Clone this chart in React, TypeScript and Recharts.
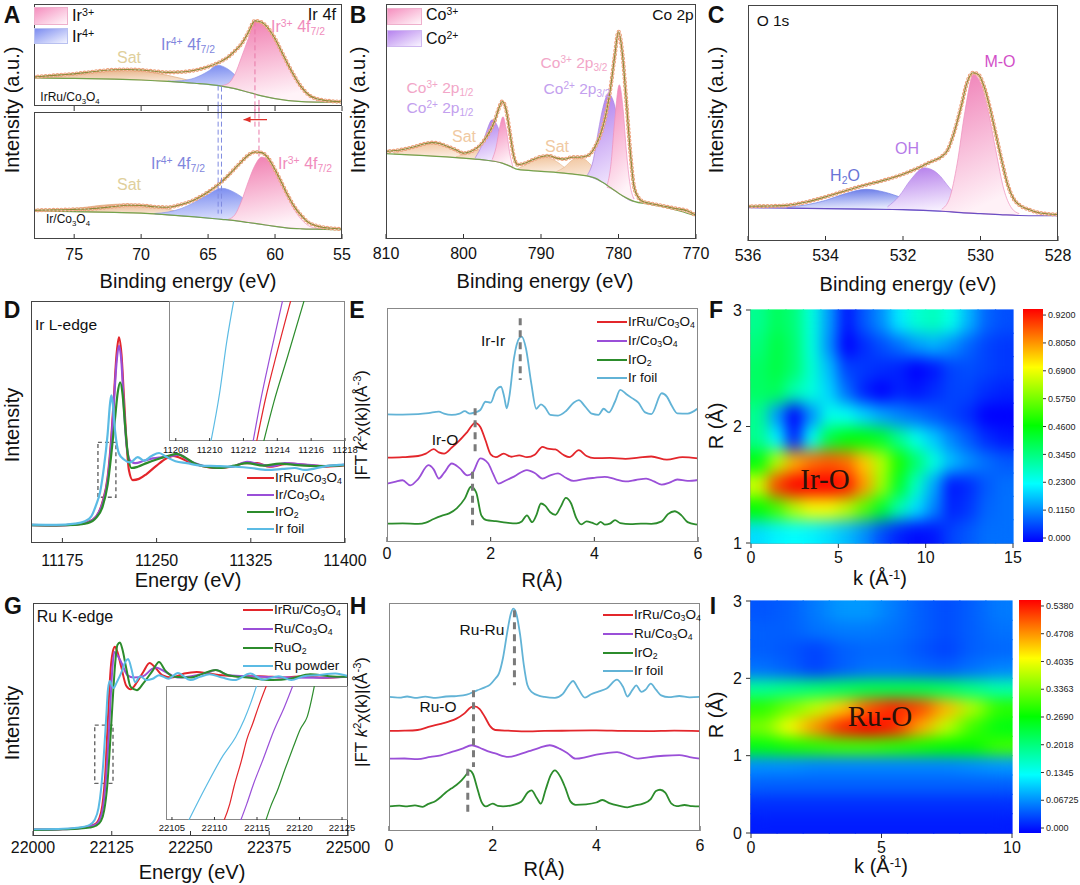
import React from 'react';
import { ComposedChart, Line, Area, Scatter, XAxis, YAxis, ReferenceLine, ReferenceArea } from 'recharts';

type P2 = [number, number];
type P3 = [number, number, number];

const FONT = '"Liberation Sans", Arial, Helvetica, sans-serif';
const SERIF = '"Liberation Serif", "Times New Roman", serif';

// ---------- A: Ir 4f (eV, intensity as % of frame) ----------
const A_TICKS = [55, 60, 65, 70, 75];
const irRuBg: P2[] = [[78, 27.5], [75, 27], [72, 26.3], [70, 25.5], [68, 24.2], [66, 22.3], [64, 19.5], [63, 17], [62, 13.5], [61, 10], [60, 7.2], [59, 5.3], [58, 4.3], [56, 3.7], [55, 3.5]];
const irRuFit: P2[] = [[78, 28.5], [77, 29.5], [76, 30.5], [75, 31.5], [74, 33], [73, 34.5], [72, 35.5], [71, 35.8], [70, 35.3], [69, 34], [68, 33], [67, 33.3], [66, 35], [65, 38.5], [64, 44], [63.5, 48], [63, 54], [62.5, 61], [62, 72], [61.5, 83.5], [61, 82], [60.5, 76], [60, 66], [59.5, 53], [59, 40], [58.5, 28], [58, 18], [57.5, 11], [57, 7.5], [56, 5], [55, 4.2]];
const irRuSat: P3[] = [[77.5, 27.4, 28.2], [76, 27.2, 29.5], [75, 27, 31], [74, 26.8, 32.8], [73, 26.6, 34.3], [72, 26.3, 35.2], [71, 26, 35.5], [70, 25.5, 34.6], [69, 24.9, 32.5], [68, 24.2, 30], [67, 23.3, 27], [66, 22.3, 23.5], [65.5, 21.6, 22]];
const irRuIr4: P3[] = [[68, 24.2, 24.4], [67, 23.3, 24.8], [66, 22.3, 27.5], [65, 21, 34], [64.3, 19.9, 40], [63.5, 18.2, 36], [62.8, 16.3, 28], [62, 13.5, 19], [61, 10, 12], [60, 7.2, 7.6]];
const irRuIr3: P3[] = [[64, 19.5, 20], [63.5, 18.2, 22], [63, 17, 31], [62.5, 15.3, 48], [62, 13.5, 66], [61.5, 11.8, 83], [61, 10, 81], [60.5, 8.6, 75], [60, 7.2, 65.5], [59.5, 6.2, 53], [59, 5.3, 40], [58.5, 4.8, 28], [58, 4.3, 18], [57.5, 4, 11], [57, 3.9, 7], [56, 3.7, 4.2]];

const irBg: P2[] = [[78, 22.2], [76, 21.8], [74, 21.3], [72, 20.9], [70, 20.4], [68, 19], [66, 17.4], [64, 15.5], [63, 14.5], [62, 13], [61, 11.5], [60, 10], [59, 8.6], [58, 8], [57, 7.7], [55, 7.3]];
const irFit: P2[] = [[78, 22.5], [77, 22.8], [76, 23], [75, 23.3], [74, 23.6], [73, 24.5], [72, 25.6], [71, 26.6], [70, 26.4], [69, 25.4], [68, 25], [67, 27.2], [66, 31], [65, 37], [64, 45], [63.5, 50], [63, 55.5], [62.5, 61], [62, 66], [61.5, 68.5], [61, 68], [60.5, 63.5], [60, 54.5], [59.5, 44], [59, 33.5], [58.5, 24.5], [58, 18], [57.5, 13], [57, 10.7], [56, 8.6], [55, 7.8]];
const irSat: P3[] = [[77, 22, 22.3], [76, 21.8, 23], [75, 21.6, 24], [74, 21.3, 25.2], [73, 21.1, 26.5], [72, 20.9, 27.3], [71, 20.6, 27.6], [70, 20.4, 27.2], [69, 19.7, 25.8], [68, 19, 23.5], [67, 18.2, 20.5], [66.5, 17.8, 18.5]];
const irIr4: P3[] = [[69, 19.7, 20.1], [68, 19, 21.2], [67, 18.2, 24], [66, 17.4, 29], [65, 16.4, 35], [64, 15.5, 40], [63, 14.5, 36.5], [62, 13, 29], [61, 11.5, 20], [60, 10, 13], [59, 8.6, 9.5], [58.5, 8.3, 8.6]];
const irIr3: P3[] = [[63.5, 15, 15.5], [63, 14.5, 19], [62.5, 13.8, 30], [62, 13, 45], [61.5, 12.2, 58], [61, 11.5, 64.5], [60.5, 10.7, 62], [60, 10, 54], [59.5, 9.3, 43], [59, 8.6, 32], [58.5, 8.3, 22], [58, 8, 15], [57.5, 7.8, 10.5], [57, 7.7, 8.6], [56.5, 7.6, 7.9]];

// ---------- B: Co 2p ----------
const B_TICKS = [770, 780, 790, 800, 810];
const coBg: P2[] = [[810, 36.3], [805, 35.5], [800, 34.4], [797, 33.5], [795, 32.3], [794, 31], [793, 29.6], [790, 28.8], [787, 28], [785, 27.3], [783, 25.9], [782, 24], [781, 21.8], [780, 19.5], [779, 17.5], [778, 16], [776, 14.8], [774, 13.5], [772, 11.8], [770, 9.8]];
const coFit: P2[] = [[810, 37.3], [808, 38], [807, 38.7], [806, 39.6], [805, 40.5], [804, 41], [803, 40.5], [802, 39.3], [801, 38], [800, 36.5], [799, 37.3], [798, 39.4], [797, 43.6], [796, 50], [795.5, 55], [795, 58.5], [794.5, 55], [794, 45], [793.5, 35], [793, 31.6], [792, 32.3], [791, 33.8], [790, 35], [789, 35.4], [788, 34.4], [787, 34], [786, 34.8], [785, 34.8], [784, 35.4], [783, 39.4], [782, 47.9], [781.5, 55], [781, 64.9], [780.5, 77.6], [780, 88.2], [779.5, 79], [779, 59.2], [778.5, 38], [778, 22.4], [777.5, 18], [777, 16.2], [776, 15.2], [775, 14.6], [773, 13.2], [771, 11.8], [770, 10]];
const coSat1: P3[] = [[809, 36.1, 36.6], [807, 35.8, 38.2], [805, 35.5, 40.5], [804, 35.3, 41], [803, 35.1, 40.3], [801, 34.7, 37.2], [799.5, 34.2, 35]];
const coSat2: P3[] = [[801, 34.7, 35], [799.5, 34.2, 36.5], [798.5, 33.9, 38.5], [797.5, 33.7, 37], [796.5, 33.3, 35], [795.5, 32.8, 33.2]];
const coSat3: P3[] = [[793, 29.6, 29.9], [792, 29.3, 31.5], [791, 29.1, 33.5], [789.5, 28.8, 34.8], [788, 28.4, 33], [787, 28, 30.5], [786, 27.7, 28.5]];
const coSat4: P3[] = [[788, 28.4, 28.7], [787, 28, 30.5], [786, 27.7, 33.5], [785, 27.3, 34.8], [784, 26.8, 33], [783, 25.9, 29], [782.3, 24.5, 25]];
const co2p12: P3[] = [[798.5, 33.9, 34.5], [797.5, 33.7, 41], [797, 33.5, 46], [796.3, 33.2, 50.7], [795.5, 32.8, 47], [795, 32.3, 40], [794.5, 31.8, 33.5], [794, 31, 31.4]];
const co3p12: P3[] = [[796.3, 33.2, 33.8], [795.8, 33, 39], [795.3, 32.5, 48], [794.9, 32.2, 52], [794.5, 31.8, 47], [794, 31, 36], [793.6, 30, 30.4]];
const co2p32: P3[] = [[784, 26.8, 27.3], [783.3, 26, 33], [782.6, 25, 46], [782, 24, 56], [781.3, 22.5, 61.8], [780.6, 20.8, 58], [780, 19.5, 48], [779.3, 18, 33], [778.6, 16.5, 21], [778, 16, 17.2]];
const co3p32: P3[] = [[781.5, 22, 22.5], [781, 21.5, 31], [780.5, 20.5, 50], [779.9, 19.3, 65.6], [779.4, 18.2, 55], [779, 17.5, 38], [778.5, 16.6, 23], [778, 16, 17]];

// ---------- C: O 1s ----------
const C_TICKS = [528, 530, 532, 534, 536];
const oBg: P2[] = [[536, 14.1], [535, 13.9], [534, 13.7], [533, 13.5], [532, 13.3], [531, 12.6], [530.5, 12], [530, 11.6], [529.5, 11.2], [529, 10.8], [528.5, 10.7], [528, 10.7]];
const oFit: P2[] = [[536, 14.7], [535.5, 14.8], [535, 15.1], [534.5, 16.5], [534, 18.7], [533.5, 21.2], [533, 23.6], [532.5, 25.7], [532, 28.3], [531.5, 31.8], [531.25, 33.8], [531, 35.8], [530.85, 38.5], [530.7, 45], [530.5, 57], [530.35, 67], [530.2, 71.3], [530.05, 70.5], [529.9, 65], [529.75, 56], [529.6, 45], [529.45, 34], [529.3, 24], [529.15, 18], [529, 15.3], [528.75, 13.3], [528.5, 12], [528, 11.2]];
const oH2O: P3[] = [[535, 13.9, 14.3], [534.5, 13.8, 15.3], [534, 13.7, 17.2], [533.5, 13.6, 20], [532.95, 13.5, 21.9], [532.5, 13.4, 20.8], [532, 13.3, 18.2], [531.5, 13, 15.6], [531, 12.6, 13.3]];
const oOH: P3[] = [[532.4, 13.4, 14.5], [532.1, 13.3, 19], [531.8, 13.2, 26], [531.45, 13.1, 31], [531.1, 12.8, 28.5], [530.8, 12.5, 22.5], [530.5, 12, 17], [530.2, 11.8, 13.8], [529.9, 11.6, 12.3]];
const oMO: P3[] = [[531, 12.6, 13.5], [530.8, 12.5, 18], [530.6, 12.2, 33], [530.4, 12, 55], [530.18, 11.8, 70.7], [530, 11.6, 67], [529.8, 11.4, 55], [529.6, 11.3, 38], [529.4, 11.1, 22], [529.2, 11, 14], [529, 10.8, 11.6]];

// ---------- D: Ir L-edge XANES ----------
const D_TICKS = [11175, 11250, 11325, 11400];
const dIrRu: P2[] = [[11150, 7.5], [11170, 7.3], [11185, 7.6], [11195, 8.6], [11202, 11], [11207, 17], [11211, 27], [11214, 44], [11216, 60], [11218, 77], [11220, 85], [11222, 78], [11224, 60], [11226, 42], [11228, 30], [11231, 26], [11236, 26.5], [11242, 28.5], [11250, 32], [11258, 35], [11263, 36], [11268, 35.3], [11276, 33.5], [11286, 31.8], [11296, 31], [11310, 31.5], [11320, 33], [11330, 33], [11340, 31.5], [11355, 32.8], [11370, 32.2], [11385, 31.6], [11400, 32.2]];
const dIr: P2[] = [[11150, 7.4], [11170, 7.3], [11185, 7.6], [11195, 8.5], [11202, 11], [11207, 16.5], [11211, 26], [11214, 42], [11216, 58], [11218, 74], [11220, 81.5], [11222, 75], [11224, 56], [11226, 41], [11229, 34], [11233, 33], [11240, 34], [11247, 35], [11255, 35.5], [11262, 36], [11268, 36.5], [11276, 34], [11286, 32], [11296, 31.2], [11310, 31.5], [11322, 33.5], [11332, 32.5], [11342, 31.8], [11352, 33], [11368, 32.4], [11385, 31.8], [11400, 32.4]];
const dIrO2: P2[] = [[11150, 7.4], [11170, 7.3], [11185, 7.5], [11195, 8.2], [11202, 10.5], [11207, 15], [11211, 24], [11214, 37], [11217, 52], [11219, 62], [11221, 66.4], [11223, 61], [11225, 48], [11227, 37], [11230, 31], [11235, 31.5], [11242, 33], [11250, 34.5], [11258, 35.8], [11266, 36.8], [11272, 35.5], [11280, 33], [11290, 31.5], [11300, 31], [11312, 32], [11322, 33], [11335, 32], [11348, 32.8], [11362, 32.2], [11380, 31.8], [11400, 32.2]];
const dFoil: P2[] = [[11150, 7.6], [11170, 7.5], [11185, 8], [11193, 9], [11198, 11], [11202, 16], [11205, 21], [11208, 31], [11211, 45], [11213, 58], [11214, 61], [11215, 58], [11217, 46], [11220, 37], [11224, 34.5], [11229, 33.3], [11235, 35.5], [11240, 34], [11246, 36], [11252, 37.2], [11258, 35.5], [11265, 33.8], [11274, 33], [11285, 32], [11298, 31.8], [11312, 31.5], [11325, 31], [11338, 30.2], [11350, 30.6], [11360, 31], [11368, 30.2], [11385, 31.8], [11400, 32.4]];
const D_IN_TICKS = [11208, 11210, 11212, 11214, 11216, 11218];
const dInIrRu: P2[] = [[11212.7, -5], [11213.3, 30], [11214, 64], [11214.9, 105]];
const dInIr: P2[] = [[11212.5, -5], [11213, 28], [11213.6, 62], [11214.4, 105]];
const dInIrO2: P2[] = [[11213.1, -5], [11213.8, 28], [11214.6, 60], [11215.7, 105]];
const dInFoil: P2[] = [[11210, -5], [11210.6, 35], [11211, 70], [11211.5, 105]];

// ---------- E: Ir FT-EXAFS ----------
const R_TICKS = [0, 2, 4, 6];
const eFoil: P2[] = [[0, 52.7], [0.3, 52.6], [0.6, 52.8], [0.8, 53.2], [1.0, 53.8], [1.1, 53], [1.25, 52.5], [1.4, 53], [1.5, 54], [1.6, 53], [1.7, 53.5], [1.8, 54.5], [1.9, 57.9], [2.0, 57.5], [2.1, 62.5], [2.2, 64.1], [2.26, 60], [2.31, 55.2], [2.36, 60], [2.45, 75.9], [2.55, 84.1], [2.6, 84.8], [2.68, 80], [2.78, 66], [2.88, 55], [2.97, 56.8], [3.05, 55.5], [3.15, 52.5], [3.3, 52.2], [3.45, 54], [3.6, 57.5], [3.7, 58.6], [3.82, 56], [3.95, 53], [4.08, 52.5], [4.18, 55], [4.28, 53.5], [4.4, 58], [4.5, 62.8], [4.62, 61], [4.72, 59.5], [4.85, 57.5], [4.98, 53.5], [5.1, 52.8], [5.3, 61.4], [5.4, 60], [5.5, 56], [5.6, 53.1], [5.8, 53], [6.0, 55.2]];
const eIrRu: P2[] = [[0, 34.8], [0.3, 35], [0.6, 35.5], [0.75, 36.5], [0.9, 38.3], [1.0, 37], [1.1, 36.5], [1.25, 39], [1.4, 42], [1.55, 45.5], [1.7, 49.2], [1.8, 47.5], [1.9, 42], [2.0, 36.2], [2.1, 35], [2.25, 36.5], [2.4, 35.2], [2.55, 35.8], [2.7, 35], [2.85, 36], [3.0, 39.3], [3.1, 38.5], [3.25, 38.2], [3.4, 36], [3.52, 35], [3.7, 37.9], [3.85, 35.5], [4.0, 34.6], [4.3, 34.7], [4.6, 34.3], [4.85, 34.8], [5.1, 35.3], [5.4, 34], [5.7, 35], [6, 34.5]];
const eIr: P2[] = [[0, 24.1], [0.15, 24.8], [0.3, 25.5], [0.45, 23.4], [0.6, 26], [0.8, 31.7], [0.9, 30], [1.0, 26.2], [1.1, 28.5], [1.25, 32.4], [1.4, 30.5], [1.55, 27.5], [1.65, 28.5], [1.8, 34.5], [1.95, 32.5], [2.05, 28], [2.15, 24.1], [2.3, 25.5], [2.45, 27], [2.7, 29.7], [2.85, 28.5], [3.0, 26.2], [3.15, 27.5], [3.3, 28.3], [3.45, 26.5], [3.6, 25.2], [3.8, 26], [4.0, 26.5], [4.2, 26.9], [4.4, 26], [4.6, 25], [4.8, 25.6], [5.0, 26.2], [5.15, 25], [5.3, 23.7], [5.45, 24.5], [5.6, 25.8], [5.8, 25.2], [6, 25.6]];
const eIrO2: P2[] = [[0, 7.6], [0.3, 7.7], [0.6, 7.5], [0.75, 8], [0.9, 9.5], [1.05, 10.8], [1.2, 11.8], [1.35, 14], [1.5, 17.9], [1.62, 22.8], [1.72, 20.5], [1.82, 11], [1.92, 9], [2.1, 8.6], [2.3, 8], [2.5, 7.7], [2.6, 8.5], [2.7, 11], [2.8, 8.2], [2.88, 11], [2.97, 15.9], [3.05, 15], [3.15, 12.3], [3.25, 11.2], [3.35, 14.5], [3.45, 18.2], [3.55, 16], [3.65, 10], [3.75, 7.3], [3.85, 8.5], [3.95, 8], [4.05, 7.2], [4.12, 8.3], [4.2, 7.2], [4.3, 7.6], [4.4, 9], [4.5, 7.8], [4.7, 7.4], [4.9, 7.6], [5.1, 7.5], [5.3, 8.5], [5.42, 11.5], [5.55, 12.7], [5.68, 11], [5.8, 8.2], [5.95, 7.3], [6, 7.2]];

// ---------- F / I: wavelet transform maps ----------
const fK = [0.5, 1.5, 2.5, 3.5, 4.5, 5.5, 6.5, 7.5, 8.5, 9.5, 10.5, 11.5, 12.5, 13.5, 14.5];
const fR = [1.1, 1.3, 1.5, 1.7, 1.9, 2.1, 2.3, 2.5, 2.7, 2.9];
const fGrid: number[][] = [
  [0.2, 0.22, 0.23, 0.22, 0.2, 0.17, 0.13, 0.07, 0.03, 0.01, 0.02, 0.06, 0.08, 0.1, 0.1],
  [0.46, 0.52, 0.62, 0.68, 0.68, 0.63, 0.54, 0.42, 0.3, 0.2, 0.12, 0.03, 0.05, 0.09, 0.1],
  [0.65, 0.86, 0.93, 0.93, 0.93, 0.9, 0.78, 0.6, 0.42, 0.28, 0.15, 0.02, 0.04, 0.08, 0.1],
  [0.45, 0.62, 0.76, 0.82, 0.84, 0.82, 0.74, 0.62, 0.48, 0.36, 0.26, 0.17, 0.13, 0.1, 0.08],
  [0.33, 0.22, 0.03, 0.24, 0.4, 0.45, 0.45, 0.42, 0.33, 0.25, 0.18, 0.12, 0.08, 0.04, 0.02],
  [0.33, 0.14, 0.0, 0.13, 0.25, 0.24, 0.19, 0.15, 0.12, 0.1, 0.08, 0.06, 0.04, 0.0, 0.0],
  [0.37, 0.38, 0.3, 0.26, 0.19, 0.1, 0.03, 0.0, 0.03, 0.02, 0.04, 0.06, 0.06, 0.04, 0.03],
  [0.37, 0.4, 0.36, 0.27, 0.17, 0.06, 0.05, 0.04, 0.03, 0.0, 0.02, 0.06, 0.07, 0.06, 0.05],
  [0.35, 0.4, 0.36, 0.26, 0.13, 0.0, 0.04, 0.07, 0.1, 0.14, 0.16, 0.13, 0.09, 0.06, 0.05],
  [0.33, 0.38, 0.35, 0.26, 0.14, 0.02, 0.08, 0.13, 0.21, 0.27, 0.29, 0.25, 0.16, 0.09, 0.07],
];
const F_BAR_TICKS = [0, 0.115, 0.23, 0.345, 0.46, 0.575, 0.69, 0.805, 0.92];
const F_BAR_LABELS = ['0.000', '0.1150', '0.2300', '0.3450', '0.4600', '0.5750', '0.6900', '0.8050', '0.9200'];

const iK = [0.5, 1.5, 2.5, 3.5, 4.5, 5.5, 6.5, 7.5, 8.5, 9.5];
const iR = [0.125, 0.375, 0.625, 0.875, 1.125, 1.375, 1.625, 1.875, 2.125, 2.375, 2.625, 2.875];
const iGrid: number[][] = [
  [0.015, 0.015, 0.015, 0.015, 0.015, 0.015, 0.015, 0.015, 0.015, 0.015],
  [0.025, 0.025, 0.025, 0.025, 0.025, 0.025, 0.025, 0.025, 0.025, 0.025],
  [0.05, 0.05, 0.05, 0.05, 0.05, 0.05, 0.05, 0.05, 0.05, 0.05],
  [0.075, 0.075, 0.07, 0.07, 0.07, 0.07, 0.07, 0.07, 0.075, 0.08],
  [0.26, 0.28, 0.29, 0.3, 0.3, 0.29, 0.28, 0.27, 0.27, 0.3],
  [0.33, 0.4, 0.46, 0.52, 0.54, 0.52, 0.45, 0.37, 0.3, 0.26],
  [0.29, 0.33, 0.37, 0.43, 0.49, 0.52, 0.5, 0.44, 0.36, 0.29],
  [0.19, 0.2, 0.21, 0.22, 0.23, 0.23, 0.23, 0.22, 0.2, 0.18],
  [0.06, 0.05, 0.035, 0.05, 0.06, 0.06, 0.055, 0.05, 0.06, 0.07],
  [0.05, 0.045, 0.035, 0.05, 0.055, 0.055, 0.045, 0.035, 0.05, 0.055],
  [0.05, 0.05, 0.06, 0.065, 0.065, 0.06, 0.05, 0.04, 0.05, 0.06],
  [0.045, 0.05, 0.065, 0.08, 0.08, 0.065, 0.05, 0.04, 0.05, 0.065],
];
const I_BAR_TICKS = [0, 0.06725, 0.1345, 0.2018, 0.269, 0.3363, 0.4035, 0.4708, 0.538];
const I_BAR_LABELS = ['0.000', '0.06725', '0.1345', '0.2018', '0.2690', '0.3363', '0.4035', '0.4708', '0.5380'];

// ---------- G: Ru K-edge XANES ----------
const G_TICKS = [22000, 22125, 22250, 22375, 22500];
const gIrRu: P2[] = [[22000, 2.9], [22040, 2.9], [22070, 3.3], [22090, 4.3], [22100, 5.4], [22105, 7.5], [22110, 13], [22115, 28], [22118, 45], [22121, 62], [22124, 74], [22127, 79.5], [22130, 81.2], [22134, 79], [22140, 72.6], [22148, 64.5], [22155, 63], [22165, 66], [22175, 70.4], [22185, 74.3], [22195, 72], [22205, 69], [22220, 68], [22240, 69.7], [22260, 70.4], [22280, 69.7], [22300, 69], [22330, 68.6], [22360, 68.6], [22400, 68], [22430, 68.6], [22460, 67.9], [22500, 68.6]];
const gRu: P2[] = [[22000, 2.6], [22040, 2.8], [22070, 3.2], [22090, 4.1], [22100, 5], [22106, 7], [22111, 12], [22116, 25], [22120, 42], [22123, 58], [22126, 72], [22129, 79], [22133, 78], [22140, 74.6], [22150, 69], [22160, 68], [22175, 68.6], [22188, 71.5], [22195, 72.3], [22210, 70.5], [22230, 68], [22260, 69], [22280, 70.4], [22290, 71.2], [22310, 69], [22350, 68.5], [22400, 68], [22450, 67.9], [22500, 68.3]];
const gRuO2: P2[] = [[22000, 2.6], [22040, 2.8], [22070, 3.1], [22090, 3.6], [22100, 4.4], [22108, 6.5], [22113, 11], [22118, 22], [22122, 38], [22126, 56], [22130, 72.6], [22134, 82], [22138, 83], [22142, 80], [22148, 72], [22155, 64], [22165, 62.6], [22175, 65.5], [22190, 71], [22200, 74.7], [22210, 71], [22225, 68.3], [22250, 68], [22270, 69.7], [22290, 71.2], [22310, 69], [22340, 68], [22380, 66.9], [22410, 67.6], [22440, 69.4], [22470, 68.6], [22500, 68.3]];
const gFoil: P2[] = [[22000, 2.9], [22040, 3], [22070, 3.5], [22090, 4.8], [22098, 7], [22104, 12], [22108, 20], [22112, 33], [22116, 50], [22119, 63], [22122, 66.5], [22125, 64.7], [22128, 63.5], [22133, 66], [22140, 70], [22147, 75], [22151, 76], [22156, 72], [22162, 66], [22170, 68.6], [22180, 66.9], [22190, 67.5], [22200, 69], [22215, 67.5], [22230, 70], [22250, 66.9], [22265, 68.3], [22280, 69.4], [22300, 68], [22320, 66.9], [22345, 69.7], [22365, 67.1], [22390, 68.6], [22410, 66.9], [22430, 68.6], [22450, 69], [22480, 69.7], [22500, 68.6]];
const G_IN_TICKS = [22105, 22110, 22115, 22120, 22125];
const gInIrRu: P2[] = [[22110.8, -5], [22111.8, 12], [22112.3, 25], [22113.2, 45], [22113.8, 60], [22114.5, 72], [22115.2, 85], [22116.4, 105]];
const gInRu: P2[] = [[22112.8, -5], [22113.8, 12], [22114.6, 27], [22115.7, 45], [22117, 67], [22118.2, 84], [22119.5, 105]];
const gInRuO2: P2[] = [[22115.8, -5], [22116.6, 10], [22117.4, 22], [22118.3, 38], [22119.3, 55], [22120.1, 68], [22120.9, 77], [22121.9, 105]];
const gInFoil: P2[] = [[22106.6, -5], [22109, 25], [22111, 48], [22112.5, 62], [22113.5, 75], [22114.3, 88], [22115.2, 105]];

// ---------- H: Ru FT-EXAFS ----------
const hFoil: P2[] = [[0, 58.8], [0.2, 58.5], [0.35, 59], [0.5, 58.4], [0.7, 58.9], [0.9, 58.4], [1.1, 59], [1.3, 59.2], [1.5, 59.8], [1.7, 61.7], [1.85, 63], [1.95, 64.2], [2.05, 66.8], [2.12, 69], [2.2, 76], [2.28, 87], [2.35, 95.3], [2.4, 97.5], [2.46, 95], [2.53, 86], [2.6, 73], [2.67, 64], [2.75, 61], [2.9, 59.3], [3.0, 58.8], [3.2, 58.4], [3.35, 60], [3.47, 64], [3.55, 65.8], [3.65, 62.5], [3.78, 58.5], [3.9, 60], [4.05, 61.2], [4.2, 62.5], [4.4, 66.4], [4.52, 63], [4.6, 59], [4.7, 62], [4.77, 63.9], [4.87, 61], [4.95, 62], [5.05, 64.6], [5.15, 62], [5.25, 59.5], [5.4, 58.7], [5.6, 59.2], [5.8, 58.6], [6, 58.8]];
const hIrRu: P2[] = [[0, 43.9], [0.3, 44], [0.55, 44.3], [0.8, 45.9], [1.0, 47], [1.15, 48], [1.3, 49.3], [1.45, 51.5], [1.58, 54.3], [1.65, 54.7], [1.75, 53.5], [1.85, 50], [1.95, 46], [2.05, 44.3], [2.3, 44], [2.7, 43.7], [3.0, 43.9], [3.5, 44], [4, 44.1], [4.5, 43.9], [5, 43.8], [5.5, 44], [6, 43.8]];
const hRu: P2[] = [[0, 31.7], [0.3, 31.8], [0.55, 31.5], [0.8, 32.5], [1.0, 33.2], [1.2, 34.6], [1.4, 36], [1.6, 37.6], [1.75, 36.5], [1.9, 35], [2.05, 34], [2.3, 32.5], [2.5, 33.5], [2.7, 35], [2.9, 36.5], [3.1, 37.6], [3.3, 36], [3.45, 34], [3.6, 31.7], [3.8, 32.4], [4.0, 33.5], [4.2, 34.2], [4.4, 34.6], [4.6, 33.2], [4.8, 31.7], [5.0, 32.3], [5.3, 33], [5.6, 33.3], [5.8, 32.4], [6, 31.7]];
const hIrO2: P2[] = [[0, 10.8], [0.2, 11.1], [0.35, 10.8], [0.5, 11.2], [0.65, 10.6], [0.75, 11.8], [0.9, 13.2], [1.0, 14.9], [1.1, 17], [1.2, 18.6], [1.3, 20.2], [1.4, 22.2], [1.5, 25], [1.55, 26.6], [1.62, 25], [1.7, 19], [1.78, 13], [1.87, 10.8], [2.0, 12], [2.1, 11], [2.2, 10.8], [2.4, 11.5], [2.55, 12.8], [2.68, 17], [2.75, 17.8], [2.85, 14.5], [2.93, 12], [3.02, 18], [3.12, 24.5], [3.2, 26.6], [3.3, 24], [3.4, 19], [3.5, 13], [3.6, 11.5], [3.8, 11.7], [4.0, 12.5], [4.12, 13.6], [4.25, 12.2], [4.45, 11], [4.6, 10.4], [4.75, 11.2], [4.9, 12], [5.05, 14], [5.15, 17.5], [5.23, 18.1], [5.33, 16.8], [5.45, 12], [5.55, 10.9], [5.7, 11.4], [5.85, 10.9], [6, 10.8]];

const RED = '#e3262b';
const PURPLE = '#9a4fd8';
const GREEN = '#2c8c2c';
const CYAN = '#5bbbe4';

const pts = (a: P2[]) => a.map(([x, y]) => ({ x, y }));
const band = (a: P3[]) => a.map(([x, lo, hi]) => ({ x, y: [lo, hi] }));
const grid = (ks: number[], rs: number[], g: number[][]) => rs.flatMap((r, i) => ks.map((k, j) => ({ x: k, y: r, v: g[i][j] })));

const JET = [[0, 0, 0, 255], [0.25, 0, 255, 255], [0.5, 0, 255, 0], [0.75, 255, 255, 0], [1, 255, 0, 0]];
function jet(t: number) {
  const v = Math.max(0, Math.min(1, t));
  for (let i = 1; i < JET.length; i++) {
    if (v <= JET[i][0]) {
      const [t0, r0, g0, b0] = JET[i - 1];
      const [t1, r1, g1, b1] = JET[i];
      const f = (v - t0) / (t1 - t0);
      return `rgb(${Math.round(r0 + (r1 - r0) * f)},${Math.round(g0 + (g1 - g0) * f)},${Math.round(b0 + (b1 - b0) * f)})`;
    }
  }
  return 'rgb(255,0,0)';
}

const line = (d: P2[], color: string, w: number, key: string) => (
  <Line key={key} data={pts(d)} dataKey="y" type="monotone" stroke={color} strokeWidth={w} dot={false} activeDot={false} isAnimationActive={false} />
);
const peak = (d: P3[], fill: string, edge: string, key: string) => (
  <Area key={key} data={band(d)} dataKey="y" type="monotone" fill={fill} fillOpacity={1} stroke={edge} strokeWidth={0.7} dot={false} activeDot={false} isAnimationActive={false} />
);
// background, measured points (rings) and fitted envelope
const fitSet = (fit: P2[], bg: P2[], k: string, bgColor = '#74a34e') => [
  line(bg, bgColor, 1.2, k + 'bg'),
  <Line key={k + 'o'} data={pts(fit)} dataKey="y" type="monotone" stroke="#eda07a" strokeWidth={4.2} strokeDasharray="0 3.9" strokeLinecap="round" dot={false} activeDot={false} isAnimationActive={false} />,
  <Line key={k + 'i'} data={pts(fit)} dataKey="y" type="monotone" stroke="#fff" strokeWidth={2} strokeDasharray="0 3.9" strokeLinecap="round" dot={false} activeDot={false} isAnimationActive={false} />,
  line(fit, '#8e8a3a', 1.1, k + 'f'),
];

function Panel(props: any) {
  const { box, xd, yd = [0, 100], rev = false, ticks, tm = 12, fs = 16, ts = -5, noLabels = false, children } = props;
  const L = 40, R = 40, T = 20, B = 50;
  return (
    <div style={{ position: 'absolute', left: box.x - L, top: box.y - T }}>
      <ComposedChart width={box.w + L + R} height={box.h + T + B} margin={{ top: T, right: R, left: L, bottom: 0 }}>
        <XAxis type="number" dataKey="x" domain={xd} allowDataOverflow reversed={rev} ticks={ticks} interval={0} height={B}
          axisLine={false} tickSize={ts} tickMargin={tm} tickLine={{ stroke: '#333' }}
          tick={{ fill: '#111', fontSize: fs, fontFamily: FONT }} tickFormatter={noLabels ? () => '' : undefined} />
        <YAxis type="number" domain={yd} allowDataOverflow hide />
        {children}
      </ComposedChart>
    </div>
  );
}

function Frame({ box, c = '#444' }: any) {
  return <div style={{ position: 'absolute', left: box.x, top: box.y, width: box.w, height: box.h, border: `1px solid ${c}`, boxSizing: 'border-box', pointerEvents: 'none' }} />;
}

function Heat({ box, xd, yd, xt, yt, cells, cols, rows, max, cls }: any) {
  const L = 50, R = 10, T = 10, B = 40, YW = 30;
  const cw = box.w / cols, ch = box.h / rows;
  const shape = (p: any) => (
    <rect x={p.cx - cw / 2 - 0.6} y={p.cy - ch / 2 - 0.6} width={cw + 1.2} height={ch + 1.2} fill={jet(p.payload.v / max)} />
  );
  const tick = { fill: '#111', fontSize: 16, fontFamily: FONT };
  return (
    <div className={cls} style={{ position: 'absolute', left: box.x - L, top: box.y - T }}>
      <ComposedChart width={box.w + L + R} height={box.h + T + B} margin={{ top: T, right: R, left: L - YW, bottom: 0 }}>
        <XAxis type="number" dataKey="x" domain={xd} ticks={xt} interval={0} height={B} tickSize={5} tickMargin={4} stroke="#333" tick={tick} />
        <YAxis type="number" dataKey="y" domain={yd} ticks={yt} interval={0} width={YW} tickSize={5} tickMargin={4} stroke="#333" tick={tick} />
        <Scatter data={cells} shape={shape} isAnimationActive={false} />
      </ComposedChart>
    </div>
  );
}

function ColorBar({ box, yd, ticks, labels }: any) {
  const T = 10, B = 10, YW = 50;
  return (
    <div style={{ position: 'absolute', left: box.x, top: box.y - T }}>
      <ComposedChart width={box.w + YW} height={box.h + T + B} margin={{ top: T, right: 0, left: 0, bottom: B }} data={ticks.map((t: number) => ({ x: 0.5, y: t }))}>
        <XAxis type="number" dataKey="x" domain={[0, 1]} hide />
        <YAxis type="number" dataKey="y" orientation="right" domain={yd} ticks={ticks} interval={0} width={YW} axisLine={false}
          tickSize={3} tickMargin={2} tickLine={{ stroke: '#333' }} tick={{ fill: '#222', fontSize: 9, fontFamily: FONT }}
          tickFormatter={(v: number, i: number) => labels[i]} />
        <ReferenceArea x1={0} x2={1} y1={yd[0]} y2={yd[1]} fill="url(#jetBar)" fillOpacity={1} stroke="none" ifOverflow="visible" />
      </ComposedChart>
    </div>
  );
}

function Txt({ x, y, s = 16, c = '#111', w = 400, f = FONT, a = 'm', children }: any) {
  const tx = a === 's' ? '0%' : a === 'e' ? '-100%' : '-50%';
  return (
    <div style={{ position: 'absolute', left: x, top: y, transform: `translate(${tx},-50%)`, fontSize: s, color: c, fontWeight: w, fontFamily: f, lineHeight: 1.1, whiteSpace: 'nowrap', pointerEvents: 'none' }}>
      {children}
    </div>
  );
}
function VTxt({ x, y, s = 20, children }: any) {
  return (
    <div style={{ position: 'absolute', left: x, top: y, transform: 'translate(-50%,-50%) rotate(-90deg)', fontSize: s, color: '#111', fontFamily: FONT, lineHeight: 1.1, whiteSpace: 'nowrap' }}>
      {children}
    </div>
  );
}
const Sb = ({ children }: any) => <sub style={{ fontSize: '0.65em', verticalAlign: '-0.3em', lineHeight: 0 }}>{children}</sub>;
const Sp = ({ children }: any) => <sup style={{ fontSize: '0.65em', verticalAlign: '0.5em', lineHeight: 0 }}>{children}</sup>;
const Co3O4 = () => <>Co<Sb>3</Sb>O<Sb>4</Sb></>;

function Key({ x, y, color, children, w = 27, s = 13.5 }: any) {
  return (
    <>
      <div style={{ position: 'absolute', left: x, top: y - 1, width: w, height: 2, background: color }} />
      <Txt x={x + w + 1} y={y} s={s} a="s">{children}</Txt>
    </>
  );
}
function Swatch({ x, y, w, h, from, to, edge }: any) {
  return <div style={{ position: 'absolute', left: x, top: y, width: w, height: h, background: `linear-gradient(to bottom right, ${from}, ${to})`, border: `1px solid ${edge}`, boxSizing: 'border-box' }} />;
}

const arrowShape = (p: any) => {
  const { x1, y1, x2, y2 } = p;
  const dir = Math.sign(x2 - x1) || 1;
  return (
    <g>
      <line x1={x1} y1={y1} x2={x2} y2={y2} stroke="#e0302a" strokeWidth={1.3} />
      <polygon points={`${x2},${y2} ${x2 - dir * 7},${y2 - 3} ${x2 - dir * 7},${y2 + 3}`} fill="#e0302a" />
    </g>
  );
};

const grad = (id: string, a: string, b: string) => (
  <linearGradient id={id} x1="0" y1="0" x2="0.25" y2="1">
    <stop offset="0" stopColor={a} />
    <stop offset="1" stopColor={b} />
  </linearGradient>
);

const BOX = {
  a1: { x: 34, y: 4, w: 308, h: 102 },
  a2: { x: 34, y: 112, w: 308, h: 127 },
  b: { x: 386, y: 4, w: 310, h: 235 },
  c: { x: 748, y: 5, w: 310, h: 236 },
  d: { x: 31, y: 301, w: 314, h: 242 },
  dIn: { x: 169, y: 301, w: 176, h: 140 },
  e: { x: 387, y: 308, w: 311, h: 234 },
  f: { x: 751, y: 310, w: 262, h: 233 },
  fBar: { x: 1023, y: 309, w: 20, h: 233 },
  g: { x: 33, y: 603, w: 315, h: 233 },
  gIn: { x: 166, y: 686, w: 182, h: 134 },
  h: { x: 389, y: 603, w: 311, h: 228 },
  i: { x: 751, y: 601, w: 261, h: 232 },
  iBar: { x: 1019, y: 600, w: 22, h: 233 },
};

const DASH = { stroke: '#7a7a7a', strokeWidth: 3, strokeDasharray: '7 5', ifOverflow: 'visible' as const };

export default function App() {
  const fCells = grid(fK, fR, fGrid);
  const iCells = grid(iK, iR, iGrid);
  return (
    <div style={{ position: 'absolute', left: 0, top: 0, width: 1080, height: 885, background: '#fff', fontFamily: FONT, overflow: 'hidden' }}>
      <style>{'.heatF .recharts-scatter{filter:url(#blurF)} .heatI .recharts-scatter{filter:url(#blurI)}'}</style>
      <svg width={0} height={0} style={{ position: 'absolute' }}>
        <defs>
          {grad('gIr3', '#f07aae', '#fff3f8')}
          {grad('gIr4', '#6f82ee', '#eef0ff')}
          {grad('gSat', '#e4ae80', '#fbeadb')}
          {grad('gCo3', '#f27cb2', '#fff3f8')}
          {grad('gCo2', '#ab77ec', '#f7f0ff')}
          {grad('gSatB', '#f0c39a', '#fcece0')}
          {grad('gMO', '#ef7db5', '#fff1f7')}
          {grad('gOH', '#b27aea', '#f8f2ff')}
          {grad('gH2O', '#5b6fe6', '#f0f2ff')}
          <linearGradient id="jetBar" x1="0" y1="0" x2="0" y2="1">
            <stop offset="0" stopColor="#ff0000" />
            <stop offset="0.25" stopColor="#ffff00" />
            <stop offset="0.5" stopColor="#00ff00" />
            <stop offset="0.75" stopColor="#00ffff" />
            <stop offset="1" stopColor="#0000ff" />
          </linearGradient>
          <filter id="blurF" x="0" y="0" width="1" height="1" colorInterpolationFilters="sRGB">
            <feGaussianBlur in="SourceGraphic" stdDeviation="7 8" result="b" />
            <feComponentTransfer in="b" result="c"><feFuncA type="linear" slope="4" /></feComponentTransfer>
            <feComposite in="c" in2="SourceAlpha" operator="in" />
          </filter>
          <filter id="blurI" x="0" y="0" width="1" height="1" colorInterpolationFilters="sRGB">
            <feGaussianBlur in="SourceGraphic" stdDeviation="10 7" result="b" />
            <feComponentTransfer in="b" result="c"><feFuncA type="linear" slope="4" /></feComponentTransfer>
            <feComposite in="c" in2="SourceAlpha" operator="in" />
          </filter>
        </defs>
      </svg>

      {/* ---------- A ---------- */}
      <Panel box={BOX.a1} xd={[55, 78]} rev ticks={A_TICKS} noLabels ts={5}>
        {peak(irRuSat, 'url(#gSat)', '#dca77a', 'sat')}
        {peak(irRuIr4, 'url(#gIr4)', '#8a96ea', 'ir4')}
        {peak(irRuIr3, 'url(#gIr3)', '#ee8fbb', 'ir3')}
        {fitSet(irRuFit, irRuBg, 'a1')}
        <ReferenceLine segment={[{ x: 64.25, y: 20 }, { x: 64.25, y: -8 }]} stroke="#7f8ae0" strokeDasharray="5 3" ifOverflow="visible" />
        <ReferenceLine segment={[{ x: 64.0, y: 19 }, { x: 64.0, y: -8 }]} stroke="#7f8ae0" strokeDasharray="5 3" ifOverflow="visible" />
        <ReferenceLine segment={[{ x: 61.5, y: 83 }, { x: 61.5, y: -8 }]} stroke="#e879a8" strokeDasharray="5 3" ifOverflow="visible" />
        <ReferenceLine segment={[{ x: 61.2, y: 6 }, { x: 61.2, y: -8 }]} stroke="#e879a8" strokeDasharray="5 3" ifOverflow="visible" />
      </Panel>
      <Frame box={BOX.a1} />
      <Panel box={BOX.a2} xd={[55, 78]} rev ticks={A_TICKS} tm={15}>
        {peak(irSat, 'url(#gSat)', '#dca77a', 'sat')}
        {peak(irIr4, 'url(#gIr4)', '#8a96ea', 'ir4')}
        {peak(irIr3, 'url(#gIr3)', '#ee8fbb', 'ir3')}
        {fitSet(irFit, irBg, 'a2')}
        <ReferenceLine segment={[{ x: 64.25, y: 105 }, { x: 64.25, y: 20 }]} stroke="#7f8ae0" strokeDasharray="5 3" ifOverflow="visible" />
        <ReferenceLine segment={[{ x: 64.0, y: 105 }, { x: 64.0, y: 20 }]} stroke="#7f8ae0" strokeDasharray="5 3" ifOverflow="visible" />
        <ReferenceLine segment={[{ x: 61.5, y: 105 }, { x: 61.5, y: 88 }]} stroke="#e879a8" strokeDasharray="5 3" ifOverflow="visible" />
        <ReferenceLine segment={[{ x: 61.2, y: 105 }, { x: 61.2, y: 65 }]} stroke="#e879a8" strokeDasharray="5 3" ifOverflow="visible" />
        <ReferenceLine segment={[{ x: 60.6, y: 94 }, { x: 62.35, y: 94 }]} shape={arrowShape} ifOverflow="visible" />
      </Panel>
      <Frame box={BOX.a2} />
      <Swatch x={34} y={7} w={34} h={18} from="#f590bf" to="#fff6fa" edge="#eeb0cc" />
      <Txt x={72} y={15} s={16.5} a="s">Ir<Sp>3+</Sp></Txt>
      <Swatch x={34} y={28} w={34} h={16} from="#7d8df0" to="#f3f4ff" edge="#b8c0f0" />
      <Txt x={72} y={36} s={16.5} a="s">Ir<Sp>4+</Sp></Txt>
      <Txt x={322} y={14} s={16.5}>Ir 4f</Txt>
      <Txt x={298} y={27} s={16} c="#f08cbc">Ir<Sp>3+</Sp> 4f<Sb>7/2</Sb></Txt>
      <Txt x={188} y={45} s={16} c="#7f86dd">Ir<Sp>4+</Sp> 4f<Sb>7/2</Sb></Txt>
      <Txt x={129} y={58} s={16} c="#e0cf9c">Sat</Txt>
      <Txt x={70} y={98} s={12}>IrRu/<Co3O4 /></Txt>
      <Txt x={305} y={164} s={16} c="#f08cbc">Ir<Sp>3+</Sp> 4f<Sb>7/2</Sb></Txt>
      <Txt x={178} y={164} s={16} c="#7f86dd">Ir<Sp>4+</Sp> 4f<Sb>7/2</Sb></Txt>
      <Txt x={129} y={185} s={16} c="#e0cf9c">Sat</Txt>
      <Txt x={68} y={220} s={12}>Ir/<Co3O4 /></Txt>
      <Txt x={188} y={281} s={20}>Binding energy (eV)</Txt>
      <VTxt x={12} y={110}>Intensity (a.u.)</VTxt>

      {/* ---------- B ---------- */}
      <Panel box={BOX.b} xd={[770, 810]} rev ticks={B_TICKS} tm={14}>
        {peak(coSat1, 'url(#gSatB)', '#e6b890', 's1')}
        {peak(coSat2, 'url(#gSatB)', '#e6b890', 's2')}
        {peak(coSat3, 'url(#gSatB)', '#e6b890', 's3')}
        {peak(coSat4, 'url(#gSatB)', '#e6b890', 's4')}
        {peak(co2p12, 'url(#gCo2)', '#a883e0', 'c21')}
        {peak(co3p12, 'url(#gCo3)', '#ee8fbb', 'c31')}
        {peak(co2p32, 'url(#gCo2)', '#a883e0', 'c23')}
        {peak(co3p32, 'url(#gCo3)', '#ee8fbb', 'c33')}
        {fitSet(coFit, coBg, 'b')}
      </Panel>
      <Frame box={BOX.b} />
      <Swatch x={387} y={8} w={35} h={17} from="#f590bf" to="#fff6fa" edge="#eeb0cc" />
      <Txt x={426} y={15} s={16} a="s">Co<Sp>3+</Sp></Txt>
      <Swatch x={387} y={30} w={35} h={17} from="#b683ee" to="#f8f3ff" edge="#d0b8f0" />
      <Txt x={426} y={39} s={16} a="s">Co<Sp>2+</Sp></Txt>
      <Txt x={673} y={15} s={15.5}>Co 2p</Txt>
      <Txt x={440} y={88} s={15.5} c="#f2a6c8">Co<Sp>3+</Sp> 2p<Sb>1/2</Sb></Txt>
      <Txt x={440} y={108} s={15.5} c="#c3a0ee">Co<Sp>2+</Sp> 2p<Sb>1/2</Sb></Txt>
      <Txt x={464} y={137} s={16} c="#f0c9a2">Sat</Txt>
      <Txt x={557} y={147} s={16} c="#f0c9a2">Sat</Txt>
      <Txt x={574} y={63} s={15.5} c="#f2a6c8">Co<Sp>3+</Sp> 2p<Sb>3/2</Sb></Txt>
      <Txt x={577} y={89} s={15.5} c="#c3a0ee">Co<Sp>2+</Sp> 2p<Sb>3/2</Sb></Txt>
      <Txt x={545} y={281} s={20}>Binding energy (eV)</Txt>
      <VTxt x={358} y={110}>Intensity (a.u.)</VTxt>

      {/* ---------- C ---------- */}
      <Panel box={BOX.c} xd={[528, 536]} rev ticks={C_TICKS} tm={14}>
        {peak(oH2O, 'url(#gH2O)', '#7080e6', 'h2o')}
        {peak(oOH, 'url(#gOH)', '#b58be6', 'oh')}
        {peak(oMO, 'url(#gMO)', '#ee8fbb', 'mo')}
        {fitSet(oFit, oBg, 'c', '#6a4fc4')}
      </Panel>
      <Frame box={BOX.c} />
      <Txt x={773} y={21} s={15.5}>O 1s</Txt>
      <Txt x={1000} y={62} s={16} c="#d24fc8">M-O</Txt>
      <Txt x={907} y={149} s={16} c="#b57ae8">OH</Txt>
      <Txt x={845} y={176} s={16} c="#6a74d6">H<Sb>2</Sb>O</Txt>
      <Txt x={908} y={284} s={20}>Binding energy (eV)</Txt>
      <VTxt x={716} y={110}>Intensity (a.u.)</VTxt>

      {/* ---------- D ---------- */}
      <Panel box={BOX.d} xd={[11150, 11400]} ticks={D_TICKS} tm={17}>
        {line(dIrRu, RED, 2.2, 'r')}
        {line(dIr, PURPLE, 2.2, 'p')}
        {line(dIrO2, GREEN, 2.2, 'g')}
        {line(dFoil, CYAN, 2.2, 'c')}
        <ReferenceArea x1={11203.3} x2={11217.6} y1={18.9} y2={41.6} fill="none" fillOpacity={0} stroke="#666" strokeWidth={1.4} strokeDasharray="4 3" />
      </Panel>
      <Frame box={BOX.d} />
      <div style={{ position: 'absolute', left: BOX.dIn.x, top: BOX.dIn.y, width: BOX.dIn.w, height: BOX.dIn.h, background: '#fff', border: '1px solid #888', boxSizing: 'border-box' }} />
      <Panel box={BOX.dIn} xd={[11207.6, 11218]} ticks={D_IN_TICKS} fs={9.5} ts={-3} tm={8}>
        {line(dInIrRu, RED, 1.2, 'r')}
        {line(dInIr, PURPLE, 1.2, 'p')}
        {line(dInIrO2, GREEN, 1.2, 'g')}
        {line(dInFoil, CYAN, 1.2, 'c')}
      </Panel>
      <Key x={247} y={478} color={RED}>IrRu/<Co3O4 /></Key>
      <Key x={247} y={495} color={PURPLE}>Ir/<Co3O4 /></Key>
      <Key x={247} y={512} color={GREEN}>IrO<Sb>2</Sb></Key>
      <Key x={247} y={529} color={CYAN}>Ir foil</Key>
      <Txt x={66} y={325} s={15.5}>Ir L-edge</Txt>
      <Txt x={188} y={580} s={20}>Energy (eV)</Txt>
      <VTxt x={12} y={425}>Intensity</VTxt>

      {/* ---------- E ---------- */}
      <Panel box={BOX.e} xd={[0, 6]} yd={[0, 96.6]} ticks={R_TICKS} tm={11}>
        {line(eIrRu, RED, 1.8, 'r')}
        {line(eIr, PURPLE, 1.8, 'p')}
        {line(eIrO2, GREEN, 1.8, 'g')}
        {line(eFoil, '#62b3d6', 1.8, 'c')}
        <ReferenceLine segment={[{ x: 2.57, y: 92.4 }, { x: 2.57, y: 66.9 }]} {...DASH} />
        <ReferenceLine segment={[{ x: 1.7, y: 55.2 }, { x: 1.7, y: 37.2 }]} {...DASH} />
        <ReferenceLine segment={[{ x: 1.65, y: 29 }, { x: 1.65, y: 6.9 }]} {...DASH} />
      </Panel>
      <Frame box={BOX.e} c="#888" />
      <Key x={597} y={322} color={RED} w={30}>IrRu/<Co3O4 /></Key>
      <Key x={597} y={341} color={PURPLE} w={30}>Ir/<Co3O4 /></Key>
      <Key x={597} y={360} color={GREEN} w={30}>IrO<Sb>2</Sb></Key>
      <Key x={597} y={378} color="#62b3d6" w={30}>Ir foil</Key>
      <Txt x={493} y={341} s={15.5}>Ir-Ir</Txt>
      <Txt x={445} y={440} s={15.5}>Ir-O</Txt>
      <Txt x={542} y={580} s={20}>R(Å)</Txt>
      <VTxt x={362} y={425} s={17}>|FT <i>k</i><Sp>2</Sp>χ(k)|(Å<Sp>-3</Sp>)</VTxt>

      {/* ---------- F ---------- */}
      <Heat box={BOX.f} xd={[0, 15]} yd={[1, 3]} xt={[0, 5, 10, 15]} yt={[1, 2, 3]} cells={fCells} cols={fK.length} rows={fR.length} max={0.92} cls="heatF" />
      <ColorBar box={BOX.fBar} yd={[-0.0165, 0.945]} ticks={F_BAR_TICKS} labels={F_BAR_LABELS} />
      <Txt x={825} y={480} s={29} f={SERIF} c="#2a1208">Ir-O</Txt>
      <Txt x={880} y={578} s={20}>k (Å<Sp>-1</Sp>)</Txt>
      <VTxt x={716} y={426}>R (Å)</VTxt>

      {/* ---------- G ---------- */}
      <Panel box={BOX.g} xd={[22000, 22500]} ticks={G_TICKS} tm={11}>
        {line(gIrRu, RED, 2, 'r')}
        {line(gRu, PURPLE, 2, 'p')}
        {line(gRuO2, GREEN, 2, 'g')}
        {line(gFoil, CYAN, 2, 'c')}
        <ReferenceArea x1={22098} x2={22127} y1={22.6} y2={47.6} fill="none" fillOpacity={0} stroke="#666" strokeWidth={1.4} strokeDasharray="4 3" />
      </Panel>
      <Frame box={BOX.g} />
      <div style={{ position: 'absolute', left: BOX.gIn.x, top: BOX.gIn.y, width: BOX.gIn.w, height: BOX.gIn.h, background: '#fff', border: '1px solid #888', boxSizing: 'border-box' }} />
      <Panel box={BOX.gIn} xd={[22104.3, 22125.7]} ticks={G_IN_TICKS} fs={9.5} ts={-3} tm={7}>
        {line(gInIrRu, RED, 1.2, 'r')}
        {line(gInRu, PURPLE, 1.2, 'p')}
        {line(gInRuO2, GREEN, 1.2, 'g')}
        {line(gInFoil, CYAN, 1.2, 'c')}
      </Panel>
      <Key x={243} y={610} color={RED} w={30}>IrRu/<Co3O4 /></Key>
      <Key x={243} y={629} color={PURPLE} w={30}>Ru/<Co3O4 /></Key>
      <Key x={243} y={648} color={GREEN} w={30}>RuO<Sb>2</Sb></Key>
      <Key x={243} y={666} color={CYAN} w={30}>Ru powder</Key>
      <Txt x={75} y={617} s={16}>Ru K-edge</Txt>
      <Txt x={192} y={872} s={20}>Energy (eV)</Txt>
      <VTxt x={12} y={723}>Intensity</VTxt>

      {/* ---------- H ---------- */}
      <Panel box={BOX.h} xd={[0, 6]} ticks={R_TICKS} tm={14}>
        {line(hIrRu, RED, 1.8, 'r')}
        {line(hRu, PURPLE, 1.8, 'p')}
        {line(hIrO2, GREEN, 1.8, 'g')}
        {line(hFoil, '#62b3d6', 1.8, 'c')}
        <ReferenceLine segment={[{ x: 2.42, y: 96.8 }, { x: 2.42, y: 63.9 }]} {...DASH} />
        <ReferenceLine segment={[{ x: 1.63, y: 61.7 }, { x: 1.63, y: 28.1 }]} {...DASH} />
        <ReferenceLine segment={[{ x: 1.52, y: 27.3 }, { x: 1.52, y: 7.3 }]} {...DASH} />
      </Panel>
      <Frame box={BOX.h} c="#888" />
      <Key x={603} y={615} color={RED} w={30}>IrRu/<Co3O4 /></Key>
      <Key x={603} y={634} color={PURPLE} w={30}>Ru/<Co3O4 /></Key>
      <Key x={603} y={653} color={GREEN} w={30}>IrO<Sb>2</Sb></Key>
      <Key x={603} y={671} color="#62b3d6" w={30}>Ir foil</Key>
      <Txt x={482} y={630} s={15.5}>Ru-Ru</Txt>
      <Txt x={438} y={707} s={15.5}>Ru-O</Txt>
      <Txt x={544} y={869} s={20}>R(Å)</Txt>
      <VTxt x={362} y={712} s={17}>|FT <i>k</i><Sp>2</Sp>χ(k)|(Å<Sp>-3</Sp>)</VTxt>

      {/* ---------- I ---------- */}
      <Heat box={BOX.i} xd={[0, 10]} yd={[0, 3]} xt={[0, 5, 10]} yt={[0, 1, 2, 3]} cells={iCells} cols={iK.length} rows={iR.length} max={0.538} cls="heatI" />
      <ColorBar box={BOX.iBar} yd={[-0.0121, 0.5525]} ticks={I_BAR_TICKS} labels={I_BAR_LABELS} />
      <Txt x={880} y={717} s={29} f={SERIF} c="#2a1208">Ru-O</Txt>
      <Txt x={881} y={866} s={20}>k (Å<Sp>-1</Sp>)</Txt>
      <VTxt x={716} y={715}>R (Å)</VTxt>

      {/* panel letters */}
      <Txt x={12} y={16} s={23} w={700}>A</Txt>
      <Txt x={358} y={16} s={23} w={700}>B</Txt>
      <Txt x={716} y={16} s={23} w={700}>C</Txt>
      <Txt x={12} y={311} s={23} w={700}>D</Txt>
      <Txt x={357} y={311} s={23} w={700}>E</Txt>
      <Txt x={716} y={311} s={23} w={700}>F</Txt>
      <Txt x={13} y={607} s={23} w={700}>G</Txt>
      <Txt x={358} y={607} s={23} w={700}>H</Txt>
      <Txt x={713} y={607} s={23} w={700}>I</Txt>
    </div>
  );
}
